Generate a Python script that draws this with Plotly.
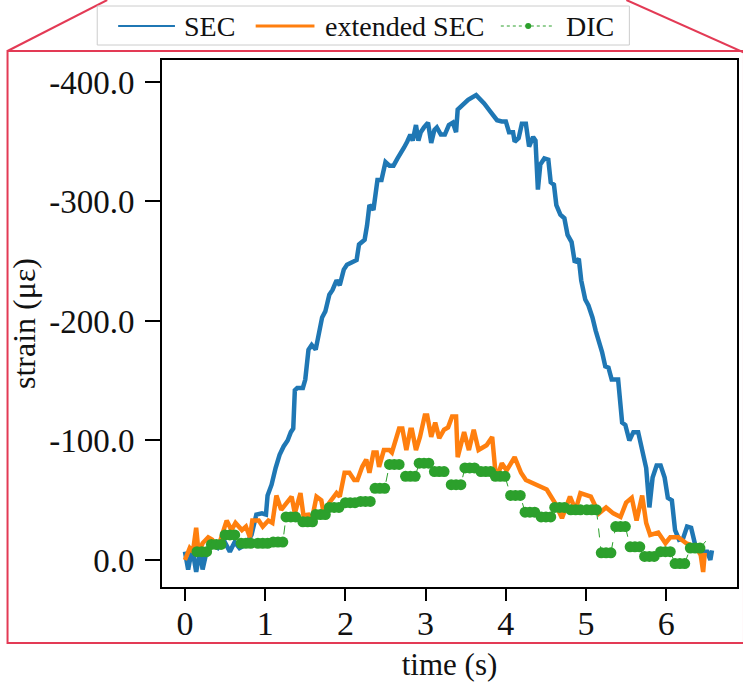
import plotly.graph_objects as go

# ---------------- data ----------------
sec_t = [0.00, 0.04, 0.09, 0.14, 0.19, 0.22, 0.27, 0.34, 0.41, 0.48, 0.56, 0.62, 0.68, 0.76,
         0.83, 0.89, 0.96, 1.01, 1.03, 1.08, 1.13, 1.18, 1.23, 1.28, 1.32, 1.35, 1.37, 1.40,
         1.47, 1.50, 1.54, 1.58, 1.63, 1.66, 1.71, 1.75, 1.80, 1.84, 1.89, 1.93, 1.98, 2.02,
         2.07, 2.14, 2.17, 2.24, 2.27, 2.30, 2.35, 2.40, 2.45, 2.50, 2.55, 2.60, 2.65, 2.70,
         2.73, 2.77, 2.81, 2.84, 2.88, 2.91, 2.94, 2.98, 3.03, 3.07, 3.11, 3.14, 3.19, 3.24,
         3.29, 3.34, 3.38, 3.40, 3.47, 3.53, 3.63, 3.73, 3.81, 3.89, 3.95, 4.00, 4.04, 4.09,
         4.11, 4.16, 4.20, 4.25, 4.29, 4.34, 4.37, 4.40, 4.43, 4.48, 4.53, 4.56, 4.60, 4.63,
         4.68, 4.73, 4.77, 4.82, 4.86, 4.91, 4.94, 4.99, 5.03, 5.08, 5.12, 5.16, 5.20, 5.24,
         5.28, 5.32, 5.37, 5.40, 5.45, 5.49, 5.54, 5.59, 5.65, 5.70, 5.75, 5.79, 5.83, 5.88,
         5.93, 5.98, 6.02, 6.07, 6.11, 6.16, 6.21, 6.26, 6.31, 6.36, 6.41, 6.46, 6.51, 6.55, 6.57]
sec_v = [-7, 8, -10, 10, -8, 8, -7, -13, -10, -17, -7, -15, -10, -13,
         -21, -38, -39, -38, -54, -63, -77, -88, -95, -100, -107, -110, -142, -144,
         -144, -151, -176, -180, -176, -188, -203, -208, -222, -226, -234, -230, -243, -247,
         -249, -251, -264, -268, -280, -297, -293, -318, -318, -333, -330, -330, -336, -341,
         -345, -350, -356, -351, -364, -351, -358, -362, -366, -349, -360, -362, -356, -356,
         -364, -366, -358, -377, -382, -385, -389, -382, -375, -368, -367, -367, -358, -358,
         -350, -353, -365, -365, -346, -354, -351, -310, -331, -336, -335, -316, -314, -297,
         -289, -286, -272, -266, -249, -252, -234, -218, -213, -203, -192, -184, -174, -162,
         -161, -151, -151, -151, -115, -113, -100, -107, -107, -92, -77, -44, -69, -79,
         -79, -69, -52, -50, -25, -17, -18, -28, -27, -13, -8, -7, -7, 0, -8]

ext_t = [0.00, 0.06, 0.10, 0.14, 0.17, 0.22, 0.29, 0.34, 0.37, 0.43, 0.52, 0.58, 0.63, 0.71,
         0.76, 0.81, 0.84, 0.92, 0.97, 1.04, 1.09, 1.14, 1.20, 1.28, 1.33, 1.37, 1.44, 1.49,
         1.53, 1.58, 1.64, 1.70, 1.73, 1.80, 1.89, 1.93, 1.99, 2.05, 2.11, 2.15, 2.21, 2.26,
         2.30, 2.35, 2.39, 2.42, 2.48, 2.55, 2.58, 2.67, 2.71, 2.76, 2.81, 2.83, 2.88, 2.93,
         2.99, 3.02, 3.07, 3.12, 3.17, 3.23, 3.28, 3.33, 3.38, 3.40, 3.48, 3.54, 3.60, 3.66,
         3.76, 3.83, 3.88, 3.95, 4.01, 4.11, 4.19, 4.25, 4.35, 4.42, 4.51, 4.61, 4.70, 4.80,
         4.87, 4.93, 5.06, 5.16, 5.25, 5.34, 5.43, 5.50, 5.57, 5.63, 5.70, 5.75, 5.80, 5.90,
         5.99, 6.05, 6.15, 6.25, 6.37, 6.43, 6.46, 6.48]
ext_v = [0, -10, -7, -27, -6, -14, -19, -17, -14, -14, -33, -25, -31, -25,
         -28, -19, -33, -33, -28, -33, -31, -54, -42, -48, -53, -39, -56, -31,
         -39, -33, -53, -50, -39, -48, -56, -53, -73, -73, -67, -67, -78, -84,
         -73, -90, -90, -78, -92, -92, -90, -110, -110, -92, -109, -109, -92, -103,
         -121, -121, -103, -115, -102, -109, -111, -120, -120, -86, -107, -92, -109, -92,
         -96, -103, -67, -81, -75, -86, -73, -67, -64, -61, -59, -48, -35, -53,
         -42, -56, -53, -39, -44, -39, -36, -48, -52, -33, -54, -31, -21, -23,
         -14, -19, -19, -14, -11, -4, 10, -6]

dic_t = [0.15, 0.21, 0.27, 0.33, 0.39, 0.45, 0.50, 0.56, 0.62, 0.70, 0.76, 0.82,
         0.91, 0.97, 1.03, 1.10, 1.16, 1.22, 1.26, 1.32, 1.38, 1.47, 1.53, 1.59,
         1.63, 1.69, 1.75, 1.80, 1.86, 1.92, 2.00, 2.06, 2.12, 2.19, 2.25, 2.31,
         2.37, 2.43, 2.49, 2.55, 2.61, 2.67, 2.75, 2.81, 2.87, 2.92, 2.98, 3.04,
         3.11, 3.17, 3.23, 3.32, 3.38, 3.44, 3.49, 3.55, 3.61, 3.69, 3.75, 3.81,
         3.87, 3.93, 3.99, 4.06, 4.12, 4.18, 4.24, 4.30, 4.36, 4.44, 4.50, 4.56,
         4.61, 4.67, 4.73, 4.81, 4.87, 4.93, 5.01, 5.07, 5.13, 5.19, 5.25, 5.31,
         5.37, 5.43, 5.49, 5.55, 5.61, 5.67, 5.73, 5.79, 5.85, 5.93, 5.99, 6.05,
         6.11, 6.17, 6.23, 6.30, 6.36, 6.42]
dic_v = [-7, -7, -7, -13, -13, -13, -21, -21, -21, -14, -14, -14,
         -14, -14, -14, -15, -15, -15, -36, -36, -36, -32, -32, -32,
         -38, -38, -38, -44, -44, -44, -48, -48, -48, -49, -49, -49,
         -60, -60, -60, -80, -80, -80, -70, -70, -70, -81, -81, -81,
         -74, -74, -74, -63, -63, -63, -77, -77, -77, -74, -74, -74,
         -70, -70, -70, -54, -54, -54, -40, -40, -40, -36, -36, -36,
         -44, -44, -44, -42, -42, -42, -42, -42, -42, -6, -6, -6,
         -28, -28, -28, -11, -11, -11, -3, -3, -3, -7, -7, -7,
         3, 3, 3, -10, -10, -10]
dic_tail_t = [6.42, 6.56]
dic_tail_v = [-10, -21]

series_names = ["SEC", "extended SEC", "DIC"]
y_tickvals = [0, -100, -200, -300, -400]
y_ticktext = ["0.0", "-100.0", "-200.0", "-300.0", "-400.0"]
x_tickvals = [0, 1, 2, 3, 4, 5, 6]

# ---------------- styling ----------------
BLUE, ORANGE, GREEN = "#1f77b4", "#ff7f0e", "#2ca02c"
RED = "#e33a55"
FONT = "Liberation Serif"
W, H = 743, 682
ML, MR, MT, MB = 162, 4, 60, 95
PW, PH = W - ML - MR, H - MT - MB


def px(x):
    return (x - ML) / PW


def py(y):
    return (H - MB - y) / PH


fig = go.Figure()
fig.add_trace(go.Scatter(x=sec_t, y=sec_v, mode="lines", name=series_names[0],
                         line=dict(color=BLUE, width=4.5)))
fig.add_trace(go.Scatter(x=ext_t, y=ext_v, mode="lines", name=series_names[1],
                         line=dict(color=ORANGE, width=4.5)))
fig.add_trace(go.Scatter(x=dic_t, y=dic_v, mode="lines+markers", name=series_names[2],
                         line=dict(color=GREEN, width=1, dash="dash"),
                         marker=dict(color=GREEN, size=11)))
fig.add_trace(go.Scatter(x=dic_tail_t, y=dic_tail_v, mode="lines", name=series_names[2],
                         line=dict(color=GREEN, width=1, dash="dash")))

# ---- frame / zoom-indicator lines ----
red_line = dict(color=RED, width=2)
shapes = [
    dict(type="rect", xref="paper", yref="paper", x0=px(7), x1=px(746), y0=py(643), y1=py(51),
         line=red_line, layer="below"),
    dict(type="line", xref="paper", yref="paper", x0=px(7), y0=py(51), x1=px(107), y1=py(0),
         line=red_line),
    dict(type="line", xref="paper", yref="paper", x0=px(628), y0=py(0), x1=px(746), y1=py(52.5),
         line=red_line),
]

# ---- legend box drawn by hand (matplotlib-like layout) ----
LEG_Y = 26
shapes.append(dict(type="rect", xref="paper", yref="paper", x0=px(97), x1=px(631),
                   y0=py(45), y1=py(6), line=dict(color="#cccccc", width=1),
                   fillcolor="white", layer="above"))
shapes.append(dict(type="line", xref="paper", yref="paper", x0=px(118), x1=px(175),
                   y0=py(LEG_Y), y1=py(LEG_Y), line=dict(color=BLUE, width=2), layer="above"))
shapes.append(dict(type="line", xref="paper", yref="paper", x0=px(256), x1=px(315),
                   y0=py(LEG_Y), y1=py(LEG_Y), line=dict(color=ORANGE, width=3), layer="above"))
shapes.append(dict(type="line", xref="paper", yref="paper", x0=px(502), x1=px(555),
                   y0=py(LEG_Y), y1=py(LEG_Y), line=dict(color=GREEN, width=1, dash="dot"),
                   layer="above"))
shapes.append(dict(type="circle", xref="paper", yref="paper", x0=px(526.5), x1=px(532.5),
                   y0=py(LEG_Y + 3), y1=py(LEG_Y - 3), fillcolor=GREEN,
                   line=dict(color=GREEN, width=0), layer="above"))

annotations = []
for name, xpos in zip(series_names, [182, 324, 565]):
    annotations.append(dict(text=name, xref="paper", yref="paper", x=px(xpos), y=py(LEG_Y),
                            xanchor="left", yanchor="middle", showarrow=False,
                            font=dict(family=FONT, size=28, color="#111111")))

fig.update_layout(
    width=W, height=H,
    margin=dict(l=ML, r=MR, t=MT, b=MB),
    paper_bgcolor="white", plot_bgcolor="white",
    font=dict(family=FONT, size=30, color="#111111"),
    shapes=shapes, annotations=annotations,
    showlegend=False,
    xaxis=dict(range=[-0.286, 6.882], tickvals=x_tickvals, showgrid=False, zeroline=False,
               showline=True, linecolor="black", linewidth=2, mirror=True,
               ticks="outside", ticklen=12, tickwidth=2, tickcolor="black",
               tickfont=dict(size=34), ticklabelstandoff=-7,
               title=dict(text="time (s)", font=dict(size=31), standoff=14)),
    yaxis=dict(range=[22.6, -418.4], tickvals=y_tickvals, ticktext=y_ticktext,
               showgrid=False, zeroline=False,
               showline=True, linecolor="black", linewidth=2, mirror=True,
               ticks="outside", ticklen=15, tickwidth=2, tickcolor="black",
               tickfont=dict(size=33), ticklabelstandoff=4,
               title=dict(text="strain (με)", font=dict(size=32), standoff=4)),
)

fig.write_html("out.html")
